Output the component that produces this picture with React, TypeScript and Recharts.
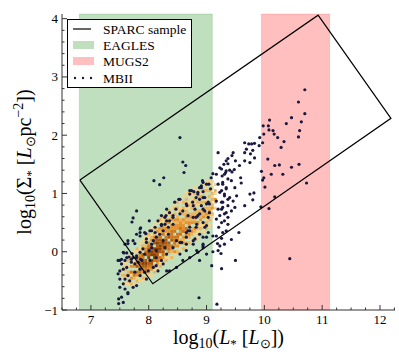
import { ScatterChart, Scatter, XAxis, YAxis, ReferenceArea, Legend } from 'recharts'

const FONT = '"Liberation Serif", "Times New Roman", serif'
const FRAME = '#333'

// axis ticks (integers get labels, the rest are minor ticks)
const xTicks = [6.5, 6.75, 7, 7.25, 7.5, 7.75, 8, 8.25, 8.5, 8.75, 9, 9.25, 9.5, 9.75, 10, 10.25, 10.5, 10.75, 11, 11.25, 11.5, 11.75, 12, 12.25]
const yTicks = [-1, -0.8, -0.6, -0.4, -0.2, 0, 0.2, 0.4, 0.6, 0.8, 1, 1.2, 1.4, 1.6, 1.8, 2, 2.2, 2.4, 2.6, 2.8, 3, 3.2, 3.4, 3.6, 3.8, 4]

// simulation luminosity ranges
const eaglesRange = [6.8, 9.1]
const mugs2Range = [9.95, 11.13]

// SPARC sample region (closed outline)
const sparcBox: [number, number][] = [
  [6.81, 1.23], [10.93, 4.06], [12.19, 2.29], [8.07, -0.55], [6.81, 1.23],
]

// 2D histogram: column centre, bottom cell centre, cell levels bottom->top (0 = empty)
const heatX = [7.55, 7.6, 7.65, 7.7, 7.75, 7.8, 7.85, 7.9, 7.95, 8.0, 8.05, 8.1, 8.15, 8.2, 8.25, 8.3, 8.35, 8.4, 8.45, 8.5, 8.55, 8.6, 8.65, 8.7, 8.75, 8.8, 8.85, 8.9, 8.95, 9.0, 9.05, 9.1, 9.15]
const heatY0 = [-0.55, -0.6, -0.55, -0.55, -0.55, -0.5, -0.5, -0.5, -0.45, -0.4, -0.4, -0.35, -0.3, -0.25, -0.2, -0.15, -0.1, -0.1, -0.05, 0, 0.05, 0.05, 0.1, 0.15, 0.2, 0.2, 0.25, 0.3, 0.35, 0.4, 0.45, 0.55, 0.75]
const heatLevels = [
  '1002101',
  '010120201',
  '1203201021',
  '20314031021',
  '102430321001',
  '213405343012',
  '10345450432101',
  '120345654503201',
  '203456505432021',
  '123450656543012',
  '10345606654032101',
  '21304665605432021',
  '10344566565403201',
  '21340566554323012',
  '10345456504332012',
  '21304555403323201',
  '10344505433032012',
  '202340544433032101',
  '130344404332302021',
  '203234403323201202',
  '103204343320221010',
  '2032304332302120201',
  '1202334032322101201',
  '2023203323201210120',
  '102320323202121010',
  '2012303232202120201',
  '101223032201202010',
  '202103232012021010',
  '10120323202120201',
  '20212302121012101',
  '1020232120202011',
  '01203202120101',
  '102301201',
]
const heatColors = ['none', '#f5d38a', '#eeb45c', '#e3922f', '#cf7418', '#b1590c', '#8c4004']

// MBII galaxies
const mbii: [number, number][] = [
  [8.54, 1.96], [8.59, 1.54], [8.64, 1.48], [8.61, 1.36], [8.26, 1.27], [8.09, 1.22], [8.19, 1.15],
  [7.79, 0.70], [7.73, 0.58], [7.71, 0.51], [7.86, 0.41], [7.95, 0.31], [7.85, 0.33], [7.64, 0.14],
  [7.76, 0.14], [7.62, -0.02], [7.57, -0.02], [7.71, -0.03],
  [7.66, -0.09], [7.73, -0.10], [7.79, -0.07], [7.86, -0.13], [7.93, -0.04], [8.01, 0.02], [8.05, 0.07],
  [8.08, 0.19], [8.13, 0.25], [8.19, 0.30], [8.25, 0.36], [8.22, 0.45], [8.30, 0.62], [8.34, 0.42],
  [8.11, 0.33], [8.02, 0.36], [7.96, 0.22], [7.90, 0.05], [7.85, -0.01], [7.82, -0.18], [7.76, -0.21],
  [7.70, -0.18], [7.53, -0.21], [7.56, -0.30], [7.50, -0.33], [7.47, -0.38], [7.50, -0.47], [7.59, -0.47],
  [7.64, -0.41], [7.67, -0.50], [7.56, -0.55], [7.50, -0.61], [7.59, -0.64], [7.64, -0.70], [7.53, -0.78],
  [7.56, -0.87], [7.85, -0.30], [7.93, -0.35], [7.85, -0.41], [7.99, -0.33], [8.08, -0.27], [8.13, -0.24],
  [8.16, -0.33], [8.25, -0.21], [8.31, -0.33], [7.96, -0.47], [7.76, -0.35], [7.73, -0.61], [7.79, -0.58],
  [7.62, -0.27], [7.53, -0.13], [7.50, -0.15], [7.59, -0.15],
  [7.47, -0.15], [7.48, -0.81], [7.64, -0.72], [7.48, -0.89], [8.87, -0.79], [9.18, -0.90],
  [8.93, 1.22], [8.91, 1.13], [8.71, 1.05], [8.78, 1.03], [8.85, 1.02], [8.94, 1.03], [9.07, 1.08],
  [8.82, 0.93], [8.88, 0.90], [8.97, 0.93], [8.52, 0.90], [8.76, 0.85], [9.03, 0.85], [8.66, 0.79],
  [8.80, 0.73], [8.94, 0.73], [8.47, 0.73], [8.59, 0.70], [9.05, 0.67], [8.68, 0.62], [8.82, 0.59],
  [8.36, 0.67], [8.42, 0.62], [8.28, 0.59], [8.31, 0.53], [8.16, 0.53], [8.22, 0.47], [8.11, 0.42],
  [8.05, 0.36], [8.94, 0.50], [9.00, 0.45], [8.82, 0.42], [8.71, 0.36], [8.88, 0.30], [9.03, 0.33],
  [8.94, 0.25], [8.80, 0.22], [8.65, 0.25], [8.57, 0.16], [8.77, 0.13], [8.94, 0.10], [8.48, 0.19],
  [9.11, 0.27],
  [9.08, 1.27], [9.04, 1.16], [8.94, 1.19], [8.88, 1.10], [8.71, 0.99], [8.54, 0.90], [8.45, 0.85],
  [8.31, 0.73], [8.22, 0.62], [8.77, 0.79], [8.91, 0.79], [9.05, 0.82], [8.85, 0.62], [9.03, 0.59],
  [8.42, 0.47], [8.68, 0.36], [8.54, 0.16], [8.94, 0.07], [8.65, 0.02], [8.85, -0.01], [8.34, 0.30],
  [8.25, 0.19],
  [9.20, 1.70], [9.30, 1.50], [9.37, 1.51], [9.17, 1.33], [9.27, 1.30], [9.34, 1.39], [9.20, 1.16],
  [9.28, 1.19], [9.34, 1.08], [9.23, 1.02], [9.31, 0.99], [9.37, 0.90], [9.17, 0.87], [9.26, 0.85],
  [9.20, 0.73], [9.28, 0.76], [9.34, 0.67], [9.23, 0.62], [9.17, 0.56], [9.31, 0.53], [9.37, 0.47],
  [9.26, 0.50], [9.21, 0.42], [9.34, 0.36], [9.28, 0.33], [9.17, 0.27], [9.26, 0.23], [9.31, 0.13],
  [9.23, 0.10], [9.20, 0.02],
  [10.70, 2.78], [10.59, 2.57], [10.70, 2.37], [10.47, 2.30], [10.64, 2.23], [10.38, 2.20], [10.09, 2.26],
  [9.98, 2.16], [10.07, 2.16], [10.08, 2.09], [10.15, 2.08], [10.23, 1.96], [10.34, 1.89], [10.61, 2.08],
  [10.59, 1.97], [10.29, 1.79], [10.17, 2.02], [9.99, 2.02], [9.92, 1.96], [9.97, 1.87], [9.91, 1.82],
  [9.83, 1.86], [9.78, 1.85], [9.73, 1.85], [9.66, 1.87], [9.69, 1.76], [9.80, 1.74], [9.76, 1.68],
  [9.66, 1.70], [9.46, 1.70], [9.44, 1.65], [9.34, 1.56], [9.50, 1.56], [9.57, 1.48], [9.48, 1.41],
  [9.40, 1.40], [9.66, 1.56], [9.75, 1.53], [9.83, 1.61], [10.06, 1.59], [10.18, 1.48], [10.26, 1.49],
  [10.47, 1.45], [10.60, 1.50], [10.32, 1.33], [10.12, 1.33], [9.99, 1.27], [9.97, 1.23], [10.01, 1.11],
  [10.18, 0.94], [10.08, 0.74], [9.80, 0.89], [9.66, 0.79], [9.75, 0.99], [9.59, 1.27], [9.60, 1.18],
  [9.95, 1.38], [10.73, 1.18],
  [9.26, 1.42], [9.31, 1.33], [9.37, 1.25], [9.28, 1.16], [9.34, 1.10], [9.43, 1.22], [9.49, 1.10],
  [9.26, 1.05], [9.31, 0.96], [9.40, 0.93], [9.46, 0.87], [9.28, 0.85], [9.37, 0.79], [9.26, 0.73],
  [9.43, 0.70], [9.31, 0.65], [9.49, 0.76], [9.52, 0.96], [9.37, 0.59],
  [9.11, 1.34], [9.23, 1.44], [9.44, 1.37], [9.33, 1.36], [9.37, 1.60],
  [9.82, 1.01], [9.94, 0.77], [9.56, 0.33], [9.43, 0.21], [9.19, 0.14], [9.11, 0.00], [9.25, -0.03],
  [9.50, -0.15], [9.09, -0.24], [9.26, -0.29], [10.44, -0.12],
  [8.71, -0.10], [8.83, 0.02], [8.94, 0.13], [8.59, -0.15], [8.48, -0.27], [8.36, -0.33], [8.88, -0.15],
  [9.00, -0.04], [8.22, -0.15], [8.13, -0.10], [8.02, -0.15], [8.31, -0.04], [8.54, -0.04], [8.77, 0.19],
  [8.65, 0.13], [8.42, 0.07], [8.28, 0.07], [8.13, 0.02], [9.00, 0.25], [8.97, 0.42], [8.83, 0.47],
  [8.71, 0.42], [8.65, 0.33], [8.77, 0.59], [8.88, 0.65], [8.97, 0.70], [9.00, 0.82], [8.94, 0.93],
  [8.85, 0.99], [8.74, 1.05], [8.91, 1.10], [9.00, 1.16], [8.65, 0.82], [8.54, 0.65], [8.42, 0.59],
  [8.36, 0.53], [8.28, 0.47], [7.93, 0.33], [7.85, 0.27], [7.79, 0.30], [7.73, 0.19], [7.64, 0.19],
  [7.59, 0.13], [7.56, -0.01], [7.62, -0.10], [7.70, -0.13], [7.79, -0.10], [7.88, -0.15], [8.05, 0.13],
  [7.96, 0.16], [8.01, 0.53], [7.85, 0.39],
]

const heatData = heatX.flatMap((x, i) =>
  heatLevels[i].split('').map((c, j) => ({ x, y: heatY0[i] + j * 0.05, level: Number(c) }))
).filter((d) => d.level > 0)
const mbiiData = mbii.map(([x, y]) => ({ x, y }))
const sparcData = sparcBox.map(([x, y]) => ({ x, y }))

const isMajor = (v: number) => Math.abs(v - Math.round(v)) < 1e-6
const fmt = (v: number) => (v < 0 ? '\u2212' + Math.abs(Math.round(v)) : String(Math.round(v)))

function BottomTick({ x, y, payload }: any) {
  const major = isMajor(payload.value)
  return (
    <g>
      <line x1={x} x2={x} y1={y} y2={y - (major ? 5 : 2.5)} stroke={FRAME} />
      {major && (
        <text x={x} y={y + 14} textAnchor="middle" fontSize={13} fontFamily={FONT} fill="#000">
          {fmt(payload.value)}
        </text>
      )}
    </g>
  )
}

function TopTick({ x, y, payload }: any) {
  const major = isMajor(payload.value)
  return <line x1={x} x2={x} y1={y} y2={y + (major ? 5 : 2.5)} stroke={FRAME} />
}

function LeftTick({ x, y, payload }: any) {
  const major = isMajor(payload.value)
  return (
    <g>
      <line x1={x} x2={x + (major ? 5 : 2.5)} y1={y} y2={y} stroke={FRAME} />
      {major && (
        <text x={x - 4} y={y + 4.5} textAnchor="end" fontSize={13} fontFamily={FONT} fill="#000">
          {fmt(payload.value)}
        </text>
      )}
    </g>
  )
}

function RightTick({ x, y, payload }: any) {
  const major = isMajor(payload.value)
  return <line x1={x} x2={x - (major ? 5 : 2.5)} y1={y} y2={y} stroke={FRAME} />
}

function XTitle({ viewBox }: any) {
  const cx = viewBox.x + viewBox.width / 2
  return (
    <text x={cx} y={viewBox.y + 34} textAnchor="middle" fontSize={20} fontFamily={FONT} fill="#000">
      log<tspan fontSize={14} dy={4}>10</tspan>
      <tspan dy={-4}>(</tspan>
      <tspan fontStyle="italic">L</tspan>
      <tspan fontSize={13} dy={4}>*</tspan>
      <tspan dy={-4}> [</tspan>
      <tspan fontStyle="italic">L</tspan>
      <tspan fontSize={13} dy={4}>⊙</tspan>
      <tspan dy={-4}>])</tspan>
    </text>
  )
}

function YTitle({ viewBox }: any) {
  const cx = viewBox.x + 31
  const cy = viewBox.y + viewBox.height / 2
  return (
    <text x={cx} y={cy} transform={`rotate(-90 ${cx} ${cy})`} textAnchor="middle" fontSize={20} fontFamily={FONT} fill="#000">
      log<tspan fontSize={14} dy={4}>10</tspan>
      <tspan dy={-4}>(Σ</tspan>
      <tspan fontSize={13} dy={4}>*</tspan>
      <tspan dy={-4}> [</tspan>
      <tspan fontStyle="italic">L</tspan>
      <tspan fontSize={13} dy={4}>⊙</tspan>
      <tspan dy={-4}>pc</tspan>
      <tspan fontSize={14} dy={-8}>−2</tspan>
      <tspan dy={8}>])</tspan>
    </text>
  )
}

function LegendBox() {
  const rows = [10, 26, 42, 59]
  return (
    <svg width={126} height={70} style={{ display: 'block' }}>
      <rect x={0.5} y={0.5} width={124} height={68} fill="#fff" stroke="#000" />
      <line x1={6} x2={24} y1={rows[0]} y2={rows[0]} stroke="#000" strokeWidth={1.2} />
      <rect x={6} y={rows[1] - 4} width={21} height={8} fill="#bfdfbf" />
      <rect x={6} y={rows[2] - 4} width={21} height={8} fill="#ffbfbf" />
      {[8, 16, 24].map((cx) => (
        <circle key={cx} cx={cx} cy={rows[3]} r={1.2} fill="#191940" />
      ))}
      {['SPARC sample', 'EAGLES', 'MUGS2', 'MBII'].map((t, i) => (
        <text key={t} x={36} y={rows[i] + 4.5} fontSize={13.5} fontFamily={FONT} fill="#000">
          {t}
        </text>
      ))}
    </svg>
  )
}

export default function App() {
  return (
    <div style={{ position: 'absolute', left: 0, top: 0 }}>
      <ScatterChart width={399} height={354} margin={{ top: 14, right: 4, left: 0, bottom: 0 }}>
        <XAxis
          dataKey="x"
          type="number"
          domain={[6.5, 12.26]}
          ticks={xTicks}
          interval={0}
          allowDataOverflow
          height={44}
          tickSize={0}
          tickMargin={0}
          tickLine={false}
          axisLine={{ stroke: FRAME }}
          tick={(p: any) => <BottomTick {...p} />}
          label={(p: any) => <XTitle {...p} />}
        />
        <XAxis
          xAxisId="top"
          orientation="top"
          type="number"
          domain={[6.5, 12.26]}
          ticks={xTicks}
          interval={0}
          allowDataOverflow
          height={0}
          tickSize={0}
          tickMargin={0}
          tickLine={false}
          axisLine={{ stroke: FRAME }}
          tick={(p: any) => <TopTick {...p} />}
        />
        <YAxis
          dataKey="y"
          type="number"
          domain={[-1, 4.08]}
          ticks={yTicks}
          interval={0}
          allowDataOverflow
          width={62}
          tickSize={0}
          tickMargin={0}
          tickLine={false}
          axisLine={{ stroke: FRAME }}
          tick={(p: any) => <LeftTick {...p} />}
          label={(p: any) => <YTitle {...p} />}
        />
        <YAxis
          yAxisId="right"
          orientation="right"
          type="number"
          domain={[-1, 4.08]}
          ticks={yTicks}
          interval={0}
          allowDataOverflow
          width={0}
          tickSize={0}
          tickMargin={0}
          tickLine={false}
          axisLine={{ stroke: FRAME }}
          tick={(p: any) => <RightTick {...p} />}
        />
        <ReferenceArea x1={eaglesRange[0]} x2={eaglesRange[1]} fill="#008000" fillOpacity={0.25} stroke="#008000" strokeOpacity={0.15} />
        <ReferenceArea x1={mugs2Range[0]} x2={mugs2Range[1]} fill="#ff0000" fillOpacity={0.25} stroke="#ff0000" strokeOpacity={0.15} />
        <Scatter
          data={heatData}
          isAnimationActive={false}
          shape={(p: any) => (
            <rect x={p.cx - 1.5} y={p.cy - 1.5} width={3} height={3} fill={heatColors[p.payload.level]} />
          )}
        />
        <Scatter
          data={mbiiData}
          isAnimationActive={false}
          shape={(p: any) => <circle cx={p.cx} cy={p.cy} r={1.6} fill="#191940" />}
        />
        <Scatter
          data={sparcData}
          isAnimationActive={false}
          line={{ stroke: '#000', strokeWidth: 1.2 }}
          lineType="joint"
          shape={() => <g />}
        />
        <Legend
          layout="horizontal"
          verticalAlign="middle"
          align="center"
          wrapperStyle={{ left: 67, top: 19, width: 126, height: 70 }}
          content={() => <LegendBox />}
        />
      </ScatterChart>
    </div>
  )
}
